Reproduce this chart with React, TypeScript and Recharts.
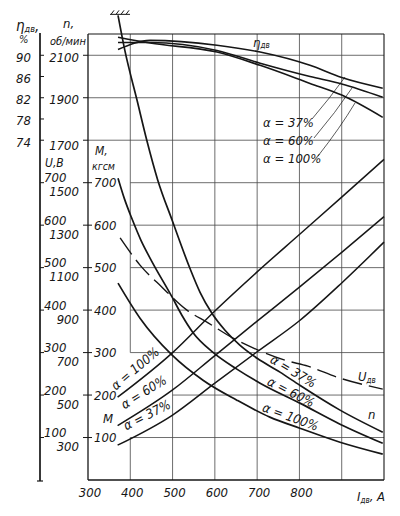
import { LineChart, Line, XAxis, YAxis, ReferenceLine } from "recharts"

// axis ticks
const xTicks = [300, 400, 500, 600, 700, 800]
const nTicks = [2100, 1900, 1700, 1500, 1300, 1100, 900, 700, 500, 300]
const etaTicks = [90, 86, 82, 78, 74]
const uTicks = [700, 600, 500, 400, 300, 200, 100]
const mTicks = [700, 600, 500, 400, 300, 200, 100]

// n, об/мин against I дв, A
const n37Cur = [371, 387, 416, 439, 465, 499, 541, 565, 593, 624, 659, 700, 754, 801, 896, 997]
const n37Val = [2288, 2124, 1888, 1700, 1512, 1323, 1097, 984, 885, 805, 735, 673, 608, 546, 429, 325]
const n60Cur = [371, 386, 404, 425, 447, 499, 522, 548, 595, 652, 707, 801, 896, 997]
const n60Val = [1521, 1425, 1330, 1230, 1144, 961, 876, 795, 702, 622, 556, 462, 363, 273]
const n100Cur = [371, 423, 499, 572, 652, 730, 801, 896, 997]
const n100Val = [1027, 862, 688, 570, 476, 396, 344, 278, 222]

// M, кгсм
const mCur = [370, 500, 600, 700, 800, 900, 1000]
const m100Val = [195, 300, 398, 490, 578, 666, 755]
const m60Val = [128, 212, 293, 374, 454, 536, 620]
const m37Val = [82, 153, 228, 302, 375, 464, 560]

// U дв, В
const uCur = [376, 423, 475, 534, 584, 643, 702, 766, 820, 889, 997]
const uVal = [570, 506, 454, 400, 370, 334, 306, 282, 268, 242, 214]

// η дв, %
const etaCur = [371, 447, 605, 707, 825, 900, 997]
const eta37Val = [91.1, 92.8, 91.9, 90.6, 88.1, 85.8, 83.8]
const eta60Val = [92.4, 92.4, 90.9, 88.5, 86.0, 84.6, 82.1]
const eta100Val = [93.4, 92.3, 90.6, 88.1, 84.7, 82.5, 78.3]

const zip = (a: number[], v: number[]) => a.map((x, i) => ({ a: x, v: v[i] }))

const INK = "#161616"
const GRID = "#474747"
const FONT = "'Liberation Sans Narrow', 'DejaVu Sans Condensed', 'Liberation Sans', sans-serif"
const txt = { fontFamily: FONT, fontStyle: "italic" as const, fill: INK }

function NTick(props: any) {
  const { y, payload } = props
  const v = payload.value
  const dy = v >= 1900 ? 2 : v >= 1700 ? 5 : 9
  return (
    <g>
      <line x1={83} x2={88} y1={y} y2={y} stroke={INK} strokeWidth={1} />
      <text x={79} y={y + dy + 4.5} textAnchor="end" fontSize={13} {...txt}>{v}</text>
    </g>
  )
}

function EtaTick(props: any) {
  const { y, payload } = props
  return (
    <g>
      <line x1={40} x2={44} y1={y} y2={y} stroke={INK} strokeWidth={1} />
      <text x={31} y={y + 6.5} textAnchor="end" fontSize={13} {...txt}>{payload.value}</text>
    </g>
  )
}

function UTick(props: any) {
  const { y, payload } = props
  return (
    <g>
      <line x1={40} x2={44} y1={y} y2={y} stroke={INK} strokeWidth={1} />
      <text x={44} y={y - 0.5} textAnchor="start" fontSize={13} {...txt}>{payload.value}</text>
    </g>
  )
}

function MTick(props: any) {
  const { y, payload } = props
  return (
    <g>
      <line x1={88} x2={92} y1={y} y2={y} stroke={INK} strokeWidth={1} />
      <text x={94} y={y + 4.5} textAnchor="start" fontSize={13} {...txt}>{payload.value}</text>
    </g>
  )
}

function XTick(props: any) {
  const { x, payload } = props
  return <text x={x + 2} y={497} textAnchor="middle" fontSize={13} {...txt}>{payload.value}</text>
}

// hatch mark at the start of the α=37% speed curve
function anchorDot(p: any) {
  const { cx, cy, index } = p
  if (index !== 0) return <g key={index} />
  return (
    <g key={index} stroke={INK} strokeWidth={1}>
      <line x1={cx - 8} x2={cx + 12} y1={cy - 1} y2={cy - 1} />
      {[0, 1, 2, 3].map((i) => (
        <line key={i} x1={cx - 7 + i * 5} y1={cy - 1} x2={cx - 4 + i * 5} y2={cy - 5} />
      ))}
    </g>
  )
}

function seg(x1: number, y1: number, x2: number, y2: number, w = 0.8, c = GRID) {
  return (
    <ReferenceLine
      key={`${x1}-${y1}-${x2}-${y2}`}
      yAxisId="n"
      segment={[{ x: x1, y: y1 }, { x: x2, y: y2 }]}
      stroke={c}
      strokeWidth={w}
    />
  )
}

const grid = [
  ...[500, 600, 700, 800, 900].map((a) => seg(a, 100, a, 2200)),
  seg(400, 700, 400, 2200),
  seg(400, 100, 400, 300),
  ...nTicks.map((n) => seg(n >= 1700 ? 300 : n === 500 ? 500 : 400, n, 1000, n)),
  seg(300, 100, 300, 2200, 1.3, INK),
  seg(1000, 100, 1000, 2200, 1.1, INK),
  seg(300, 2200, 1000, 2200, 1.1, INK),
  seg(300, 100, 1000, 100, 1.3, INK),
]

function Notes() {
  return (
    <svg width={400} height={516} style={{ position: "absolute", left: 0, top: 0, pointerEvents: "none" }}>
      <line x1={40} y1={33} x2={40} y2={481} stroke={INK} strokeWidth={1.7} />
      <line x1={37} y1={481} x2={43} y2={481} stroke={INK} strokeWidth={1.2} />
      <text x={16} y={31} fontSize={15} {...txt}>η<tspan fontSize={9} dy={1}>дв</tspan><tspan dy={-1}>,</tspan></text>
      <text x={19} y={43} fontSize={11} {...txt}>%</text>
      <text x={63} y={28} fontSize={13} {...txt}>n,</text>
      <text x={50} y={45} fontSize={11} {...txt}>об/мин</text>
      <text x={45} y={167} fontSize={12} {...txt}>U,В</text>
      <text x={95} y={155} fontSize={12} {...txt}>M,</text>
      <text x={92} y={170} fontSize={10.5} {...txt}>кгсм</text>

      <text x={253} y={47} fontSize={13} {...txt}>η<tspan fontSize={8} dy={1}>дв</tspan></text>
      <text x={263} y={127} fontSize={13} {...txt}>α = 37%</text>
      <text x={263} y={145} fontSize={13} {...txt}>α = 60%</text>
      <text x={263} y={163} fontSize={13} {...txt}>α = 100%</text>
      <g stroke={INK} strokeWidth={0.7} fill="none">
        <path d="M312,119 Q330,98 345,77" />
        <path d="M314,138 Q336,112 352,88" />
        <path d="M318,156 Q340,128 355,103" />
      </g>

      <text transform="translate(291,375) rotate(31)" textAnchor="middle" fontSize={13} {...txt}>α = 37%</text>
      <text transform="translate(289,396) rotate(27)" textAnchor="middle" fontSize={13} {...txt}>α = 60%</text>
      <text transform="translate(289,421) rotate(20)" textAnchor="middle" fontSize={13} {...txt}>α = 100%</text>
      <text x={368} y={419} fontSize={13} {...txt}>n</text>
      <text x={358} y={381} fontSize={13} {...txt}>U<tspan fontSize={8} dy={2}>дв</tspan></text>

      <text transform="translate(138,372) rotate(-40)" textAnchor="middle" fontSize={13} {...txt}>α = 100%</text>
      <text transform="translate(146,396) rotate(-32)" textAnchor="middle" fontSize={13} {...txt}>α = 60%</text>
      <text transform="translate(149,419) rotate(-27)" textAnchor="middle" fontSize={13} {...txt}>α = 37%</text>
      <text x={103} y={423} fontSize={13} {...txt}>M</text>

      <text x={357} y={501} fontSize={13} {...txt}>I<tspan fontSize={8} dy={2}>дв</tspan><tspan dy={-2}>, A</tspan></text>
    </svg>
  )
}

export default function App() {
  const line = (id: string, data: any[], w: number, extra: any = {}) => (
    <Line
      yAxisId={id}
      data={data}
      dataKey="v"
      type="monotone"
      stroke={INK}
      strokeWidth={w}
      dot={false}
      isAnimationActive={false}
      {...extra}
    />
  )
  return (
    <div style={{ position: "relative", width: 400, height: 516, background: "#fff" }}>
      <style>{"body{margin:0;background:#fff}"}</style>
      <LineChart width={400} height={516} margin={{ top: 12.8, right: 16, bottom: 6, left: 84 }}>
        <XAxis
          dataKey="a"
          type="number"
          domain={[300, 1000]}
          ticks={xTicks}
          interval={0}
          height={30}
          axisLine={false}
          tickLine={false}
          tick={(p: any) => <XTick {...p} />}
        />
        <YAxis yAxisId="n" type="number" domain={[100, 2300]} ticks={nTicks} interval={0} width={1}
          axisLine={false} tickLine={false} tick={(p: any) => <NTick {...p} />} />
        <YAxis yAxisId="eta" type="number" domain={[10, 98]} ticks={etaTicks} interval={0} width={1}
          axisLine={false} tickLine={false} tick={(p: any) => <EtaTick {...p} />} />
        <YAxis yAxisId="u" type="number" domain={[0, 1100]} ticks={uTicks} interval={0} width={1}
          axisLine={false} tickLine={false} tick={(p: any) => <UTick {...p} />} />
        <YAxis yAxisId="m" type="number" domain={[0, 1100]} ticks={mTicks} interval={0} width={1}
          axisLine={false} tickLine={false} tick={(p: any) => <MTick {...p} />} />
        {grid}
        {line("n", zip(n37Cur, n37Val), 1.7, { dot: anchorDot })}
        {line("n", zip(n60Cur, n60Val), 1.7)}
        {line("n", zip(n100Cur, n100Val), 1.7)}
        {line("m", zip(mCur, m100Val), 1.5)}
        {line("m", zip(mCur, m60Val), 1.5)}
        {line("m", zip(mCur, m37Val), 1.5)}
        {line("u", zip(uCur, uVal), 1.4, { strokeDasharray: "20 7" })}
        {line("eta", zip(etaCur, eta37Val), 1.6)}
        {line("eta", zip(etaCur, eta60Val), 1.6)}
        {line("eta", zip(etaCur, eta100Val), 1.6)}
      </LineChart>
      <Notes />
    </div>
  )
}
